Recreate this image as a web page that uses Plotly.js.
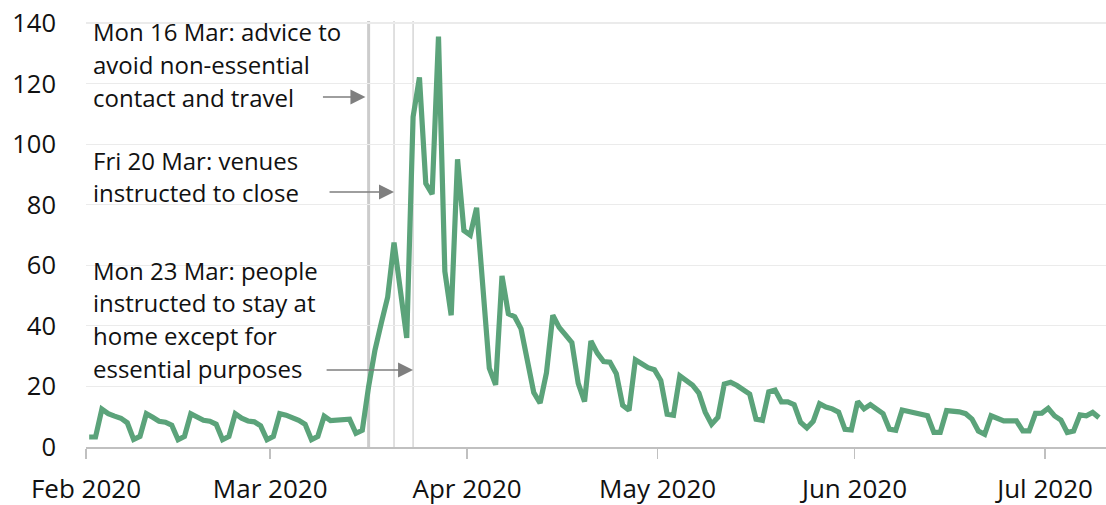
<!DOCTYPE html>
<html>
<head>
<meta charset="utf-8">
<script src="https://cdn.plot.ly/plotly-3.0.1.min.js"></script>
<style>
  html, body { margin: 0; padding: 0; background: #ffffff; }
  #chart { width: 1106px; height: 505px; }
</style>
</head>
<body>
<div id="chart"></div>
<script>
// ---- Data ----
const startDate = '2020-02-01';
const febValues = [3.3, 3.3, 12.5, 11, 10.2, 9.5, 8, 2.5, 3.5, 11, 9.8, 8.5, 8.2, 7.2, 2.4, 3.5, 11, 9.8, 8.8, 8.5, 7.5, 2.4, 3.5, 11, 9.5, 8.6, 8.3, 7, 2.4];
const marValues = [3.5, 11, 10.5, 9.8, 8.8, 7.5, 2.4, 3.5, 10.2, 8.7, 8.8, 9.2, 9.2, 4.5, 5.5, 20, 32, 41, 49.5, 67.5, 52, 36, 109, 122, 87, 83.5, 135.5, 58, 43.5, 95, 71.5];
const aprValues = [70, 79, 50, 26, 20.5, 56.5, 44, 43, 39, 27.5, 18, 14.5, 24.5, 43.5, 39.5, 37, 34.5, 21, 15, 35, 31, 28.2, 28, 24.2, 13.8, 12.1, 28.8, 27.5, 26.2, 25.5];
const mayValues = [22, 10.8, 10.5, 23.5, 22.2, 20.4, 17.8, 11.5, 7.5, 9.8, 20.8, 21.4, 20.3, 19, 17.5, 9.2, 8.8, 18.2, 18.8, 14.9, 14.9, 14, 8.2, 6.3, 8.5, 14.3, 13.2, 12.6, 11.5, 5.8, 5.6];
const junValues = [15, 12.6, 14, 12.6, 11, 5.9, 5.5, 12.2, 11.7, 11.2, 10.8, 10.3, 4.8, 4.8, 12, 12, 11.6, 11, 9.2, 5.3, 4.2, 10.3, 9.4, 8.6, 8.6, 8.6, 5.3, 5.3, 11.1, 11.2];
const julValues = [12.8, 10.3, 8.9, 4.8, 5.3, 10.6, 10.3, 11.4, 9.7];

const tickDates = ['2020-02-01', '2020-03-01', '2020-04-01', '2020-05-01', '2020-06-01', '2020-07-01'];
const tickLabels = ['Feb 2020', 'Mar 2020', 'Apr 2020', 'May 2020', 'Jun 2020', 'Jul 2020'];
const yTicks = [0, 20, 40, 60, 80, 100, 120, 140];

const eventDates = ['2020-03-16', '2020-03-20', '2020-03-23'];
const note1Lines = ['Mon 16 Mar: advice to', 'avoid non-essential', 'contact and travel'];
const note2Lines = ['Fri 20 Mar: venues', 'instructed to close'];
const note3Lines = ['Mon 23 Mar: people', 'instructed to stay at', 'home except for', 'essential purposes'];

// ---- Build series ----
const values = [].concat(febValues, marValues, aprValues, mayValues, junValues, julValues);
function dayString(base, offset, hour) {
  const d = new Date(base + 'T00:00:00Z');
  d.setUTCDate(d.getUTCDate() + offset);
  const s = d.toISOString().slice(0, 10);
  return s + ' ' + hour;
}
const xDates = values.map((v, i) => dayString(startDate, i, '12:00'));

// ---- Layout helpers ----
const L = 86, T = 21, PW = 1020, PH = 426;
const px2paperY = (ypx) => (T + PH - ypx) / PH;
const px2paperX = (xpx) => (xpx - L) / PW;

const FONT = '"Open Sans", "Noto Sans", sans-serif';
const textColor = '#111111';
const noteSize = 24;

const annotations = [];
function addNote(lines, ys) {
  lines.forEach((t, i) => {
    annotations.push({
      xref: 'paper', yref: 'paper',
      x: px2paperX(91), y: px2paperY(ys[i]),
      xanchor: 'left', yanchor: 'middle',
      text: t, showarrow: false, align: 'left',
      font: { family: FONT, size: noteSize, color: textColor }
    });
  });
}
addNote(note1Lines, [31, 64, 97]);
addNote(note2Lines, [160, 192]);
addNote(note3Lines, [270, 302, 335, 368]);

// arrows
const arrowSpecs = [
  { date: eventDates[0] + ' 00:00', ypx: 97, tail: -44 },
  { date: eventDates[1] + ' 12:00', ypx: 192, tail: -66 },
  { date: eventDates[2] + ' 12:00', ypx: 370, tail: -88 }
];
arrowSpecs.forEach(a => {
  annotations.push({
    xref: 'x', yref: 'paper',
    x: a.date, y: px2paperY(a.ypx),
    ax: a.tail, ay: 0,
    text: '', showarrow: true,
    arrowhead: 2, arrowsize: 2, arrowwidth: 1.5,
    arrowcolor: '#7f7f7f', standoff: 0, startstandoff: 0
  });
});

const shapes = eventDates.map((d, i) => ({
  type: 'line', layer: 'below',
  xref: 'x', yref: 'paper',
  x0: d + ' 12:00', x1: d + ' 12:00', y0: 0, y1: 1,
  line: { color: i === 0 ? '#cccccc' : '#d6d6d6', width: i === 0 ? 3 : 1.5 }
}));

const trace = {
  type: 'scatter', mode: 'lines',
  x: xDates, y: values,
  line: { color: '#5ba37a', width: 5.2, shape: 'linear' },
  hoverinfo: 'skip'
};

const layout = {
  width: 1106, height: 505,
  margin: { l: L, r: 1106 - L - PW, t: T, b: 505 - T - PH, pad: 0 },
  paper_bgcolor: '#ffffff', plot_bgcolor: '#ffffff',
  showlegend: false,
  font: { family: FONT, color: textColor },
  xaxis: {
    type: 'date',
    range: ['2020-02-01 00:00', '2020-07-10 14:24'],
    tickmode: 'array', tickvals: tickDates, ticktext: tickLabels,
    ticks: 'outside', ticklen: 10, tickwidth: 1.5, tickcolor: '#c0c0c0',
    showline: true, linecolor: '#c0c0c0', linewidth: 1.5,
    showgrid: false, zeroline: false,
    tickfont: { family: FONT, size: 26, color: textColor },
    ticklabelstandoff: 8
  },
  yaxis: {
    range: [0, 140.66],
    tickmode: 'array', tickvals: yTicks,
    ticks: '', showline: false,
    showgrid: true, gridcolor: '#ebebeb', gridwidth: 1.2,
    zeroline: false,
    tickfont: { family: FONT, size: 25.5, color: textColor },
    ticklabelstandoff: 29
  },
  shapes: shapes,
  annotations: annotations
};

Plotly.newPlot('chart', [trace], layout, { staticPlot: true, displayModeBar: false });
</script>
</body>
</html>
